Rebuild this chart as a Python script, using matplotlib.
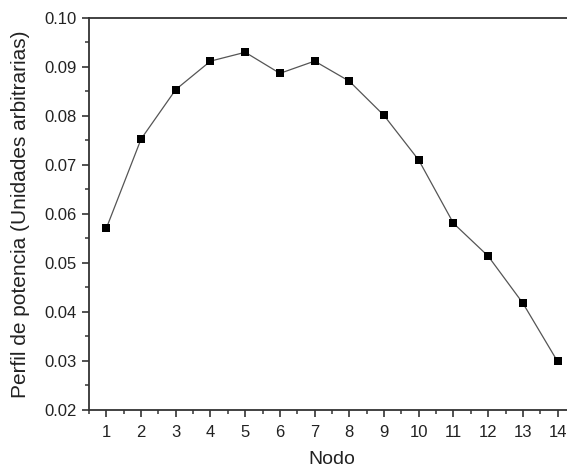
import matplotlib
matplotlib.use("Agg")
from matplotlib import pyplot as plt
from matplotlib.ticker import MultipleLocator

nodes = [1, 2, 3, 4, 5, 6, 7, 8, 9, 10, 11, 12, 13, 14]
power = [0.0571, 0.0753, 0.0854, 0.0912, 0.0930, 0.0887, 0.0912,
         0.0871, 0.0801, 0.0710, 0.0581, 0.0514, 0.0418, 0.0299]

plt.rcParams["font.family"] = ["Liberation Sans", "DejaVu Sans"]

fig = plt.figure(figsize=(5.67, 4.72), dpi=100)
ax = fig.add_axes([0.157, 0.1314, 0.857, 0.8305])

ax.plot(nodes, power, color="#555555", linewidth=0.9,
        marker="s", markersize=6.3, markerfacecolor="black",
        markeredgecolor="black", markeredgewidth=0)

ax.set_xlim(0.5, 14.5)
ax.set_ylim(0.02, 0.10)
ax.xaxis.set_major_locator(MultipleLocator(1))
ax.xaxis.set_minor_locator(MultipleLocator(0.5))
ax.yaxis.set_major_locator(MultipleLocator(0.01))
ax.yaxis.set_minor_locator(MultipleLocator(0.005))
ax.yaxis.set_major_formatter(lambda v, p: f"{v:.2f}")

for s in ax.spines.values():
    s.set_linewidth(1.3)
    s.set_color("#333333")
ax.spines["right"].set_visible(False)

ax.tick_params(which="major", direction="out", length=5, width=1.2,
               labelsize=12, pad=4, colors="#333333", labelcolor="#222222")
ax.tick_params(which="minor", direction="out", length=3, width=1.1,
               colors="#333333")
ax.tick_params(axis="x", which="major", pad=6)

ax.set_xlabel("Nodo", fontsize=14, color="#222222", labelpad=8)
ax.set_ylabel("Perfil de potencia (Unidades arbitrarias)", fontsize=15,
              color="#222222", labelpad=10)

fig.savefig("out.png", dpi=100)
